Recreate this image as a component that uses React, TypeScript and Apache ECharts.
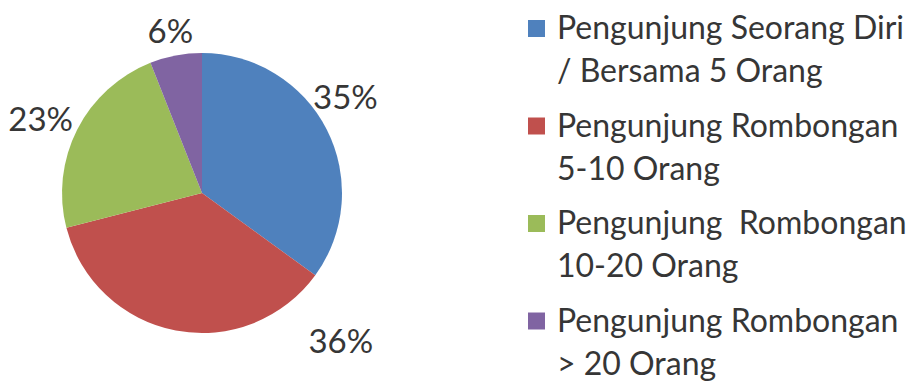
import React, { useEffect, useRef } from "react";
import * as echarts from "echarts";

const categoryLines: string[][] = [
  ["Pengunjung Seorang Diri", "/ Bersama 5 Orang"],
  ["Pengunjung Rombongan", "5-10 Orang"],
  ["Pengunjung  Rombongan", "10-20 Orang"],
  ["Pengunjung Rombongan", "> 20 Orang"],
];
const categories: string[] = categoryLines.map((l) => l.join(" "));
const values: number[] = [35, 36, 23, 6];
const colors: string[] = ["#4F81BD", "#C0504D", "#9BBB59", "#8064A2"];

// label placement (degrees clockwise from 12 o'clock, distance from centre in px)
const labelAngles: number[] = [56, 136.6, 295, 349];
const labelDists: number[] = [173, 202, 178, 166];

const CX = 202;
const CY = 193;
const FONT = "Lato, 'Open Sans', sans-serif";
const TEXT_COLOR = "#363636";

// legend layout
const LEG_X = 528;
const LEG_TOP = 20;
const LEG_PITCH = 97.5;
const LEG_ICON = 17;
const LEG_TEXT_X = 557;
const LEG_LINE = 43;

export default function App() {
  const ref = useRef<HTMLDivElement>(null);
  useEffect(() => {
    document.body.style.margin = "0";
    if (!ref.current) return;
    const chart = echarts.init(ref.current, undefined, { renderer: "svg" });

    const legendGraphics = categoryLines.map((lines, i) => {
      const top = LEG_TOP + i * LEG_PITCH;
      return {
        type: "group",
        children: [
          {
            type: "rect",
            shape: { x: LEG_X, y: top, width: LEG_ICON, height: LEG_ICON },
            style: { fill: colors[i] },
          },
          {
            type: "text",
            x: LEG_TEXT_X,
            y: top + LEG_ICON / 2 - 2 - LEG_LINE / 2,
            style: {
              text: lines.join("\n"),
              fontSize: 32,
              fontFamily: FONT,
              lineHeight: LEG_LINE,
              fill: TEXT_COLOR,
              align: "left",
              verticalAlign: "top",
            },
          },
        ],
      };
    });

    chart.setOption({
      animation: false,
      backgroundColor: "#ffffff",
      color: colors,
      graphic: legendGraphics,
      series: [
        {
          type: "pie",
          name: "Pengunjung",
          center: [CX, CY],
          radius: 140,
          startAngle: 90,
          clockwise: true,
          avoidLabelOverlap: false,
          data: categories.map((name, i) => ({ name, value: values[i] })),
          itemStyle: { borderWidth: 0 },
          label: {
            show: true,
            position: "outside",
            formatter: "{d}%",
            fontFamily: FONT,
            fontSize: 33,
            color: TEXT_COLOR,
          },
          labelLine: { show: false },
          labelLayout: (params: any) => {
            const i = params.dataIndex;
            const a = (labelAngles[i] * Math.PI) / 180;
            return {
              x: CX + labelDists[i] * Math.sin(a),
              y: CY - labelDists[i] * Math.cos(a),
              align: "center",
              verticalAlign: "middle",
            };
          },
          emphasis: { disabled: true },
        },
      ],
    });
    return () => chart.dispose();
  }, []);
  return <div ref={ref} style={{ width: 918, height: 381 }} />;
}
